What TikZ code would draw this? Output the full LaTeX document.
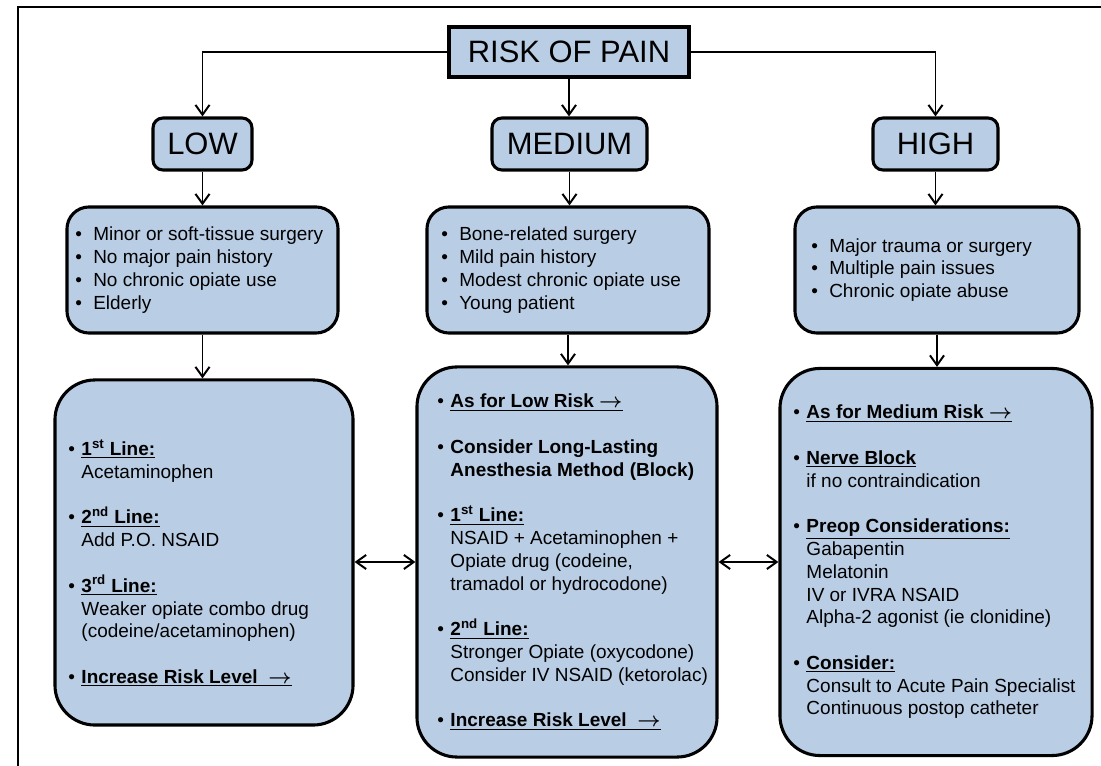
\documentclass[tikz,border=0pt]{standalone}
\usepackage{fontspec}
\setmainfont{Liberation Sans}
\usetikzlibrary{arrows.meta}
\definecolor{painblue}{RGB}{185,205,229}
\newcommand{\hd}[1]{\underline{\textbf{#1}}}
\newcommand{\itm}[1][0.33cm]{\makebox[#1][l]{\textbullet}}
\newcommand{\ind}[1][0.33cm]{\hspace*{#1}}
\newcommand{\ra}{{\boldmath$\rightarrow$}}

\begin{document}
\begin{tikzpicture}[
  x=0.025cm, y=-0.025cm,
  box/.style={draw, line width=2.2pt, fill=painblue},
  titlebox/.style={box, rectangle, minimum width=6cm, minimum height=1.25cm, font=\fontsize{22}{26}\selectfont},
  level/.style={box, rounded corners=0.25cm, minimum height=1.3cm, font=\fontsize{22}{26}\selectfont},
  crit/.style={box, rounded corners=0.55cm, minimum height=3.15cm},
  plan/.style={box, rounded corners=1cm},
  txt/.style={anchor=west, align=left, inner sep=0pt, font=\fontsize{13.5}{16.2}\selectfont},
  arr/.style={line width=1.4pt, -{Straight Barb[length=7pt, width=10pt]}},
  dbl/.style={line width=1.4pt, {Straight Barb[length=7pt, width=10pt]}-{Straight Barb[length=7pt, width=10pt]}}
]
\useasboundingbox (0,0) rectangle (1101,766);
\clip (0,0) rectangle (1101,766);

% frame
\draw[line width=1.7pt] (18,790) -- (18,7) -- (1130,7);

\node[titlebox] (risk) at (569,52) {RISK OF PAIN};

\node[level, minimum width=2.475cm] (low) at (202.5,144) {LOW};
\node[level, minimum width=3.875cm] (medium) at (569.5,144) {MEDIUM};
\node[level, minimum width=3.125cm] (high) at (935.5,144) {HIGH};

\node[crit, minimum width=6.775cm] (lowcrit) at (202.5,270) {};
\node[crit, minimum width=7.05cm] (medcrit) at (568,270) {};
\node[crit, minimum width=7.1cm] (highcrit) at (937,270) {};

\node[plan, minimum width=7.45cm, minimum height=8.625cm] (lowtx) at (204,552.5) {};
\node[plan, minimum width=7.5cm, minimum height=9.75cm] (medtx) at (567,562) {};
\node[plan, minimum width=7.8cm, minimum height=9.675cm] (hightx) at (936,562) {};

\node[txt] (lowcrit-t) at (75,270) {%
  \itm[0.45cm]Minor or soft-tissue surgery\\
  \itm[0.45cm]No major pain history\\
  \itm[0.45cm]No chronic opiate use\\
  \itm[0.45cm]Elderly};
\node[txt] (medcrit-t) at (441,270) {%
  \itm[0.45cm]Bone-related surgery\\
  \itm[0.45cm]Mild pain history\\
  \itm[0.45cm]Modest chronic opiate use\\
  \itm[0.45cm]Young patient};
\node[txt] (highcrit-t) at (811,270) {%
  \itm[0.45cm]Major trauma or surgery\\
  \itm[0.45cm]Multiple pain issues\\
  \itm[0.45cm]Chronic opiate abuse};

\node[txt] (lowtx-t) at (68,563) {%
  \itm\hd{1\textsuperscript{st} Line:}\\
  \ind Acetaminophen\\[16.2pt]
  \itm\hd{2\textsuperscript{nd} Line:}\\
  \ind Add P.O. NSAID\\[16.2pt]
  \itm\hd{3\textsuperscript{rd} Line:}\\
  \ind Weaker opiate combo drug\\
  \ind (codeine/acetaminophen)\\[16.2pt]
  \itm\hd{Increase Risk Level\ \ \ra}};
\node[txt] (medtx-t) at (437,562) {%
  \itm\hd{As for Low Risk \ra}\\[16.2pt]
  \itm\textbf{Consider Long-Lasting}\\
  \ind\textbf{Anesthesia Method (Block)}\\[16.2pt]
  \itm\hd{1\textsuperscript{st} Line:}\\
  \ind NSAID + Acetaminophen +\\
  \ind Opiate drug (codeine,\\
  \ind tramadol or hydrocodone)\\[16.2pt]
  \itm\hd{2\textsuperscript{nd} Line:}\\
  \ind Stronger Opiate (oxycodone)\\
  \ind Consider IV NSAID (ketorolac)\\[16.2pt]
  \itm\hd{Increase Risk Level\ \ \ra}};
\node[txt] (hightx-t) at (793,562) {%
  \itm\hd{As for Medium Risk \ra}\\[16.2pt]
  \itm\hd{Nerve Block}\\
  \ind if no contraindication\\[16.2pt]
  \itm\hd{Preop Considerations:}\\
  \ind Gabapentin\\
  \ind Melatonin\\
  \ind IV or IVRA NSAID\\
  \ind Alpha-2 agonist (ie clonidine)\\[16.2pt]
  \itm\hd{Consider:}\\
  \ind Consult to Acute Pain Specialist\\
  \ind Continuous postop catheter};

\draw[arr] (risk.west) -| (low.north);
\draw[arr] (risk.east) -| (high.north);
\draw[arr] (risk.south) -- (risk.south |- medium.north);

\foreach \a/\b in {low/lowcrit, medium/medcrit, high/highcrit, lowcrit/lowtx, medcrit/medtx, highcrit/hightx}
  \draw[arr] (\a.south) -- (\a.south |- \b.north);

\draw[dbl] (lowtx.east |- medtx.west) -- (medtx.west);
\draw[dbl] (medtx.east) -- (hightx.west);

\end{tikzpicture}
\end{document}
